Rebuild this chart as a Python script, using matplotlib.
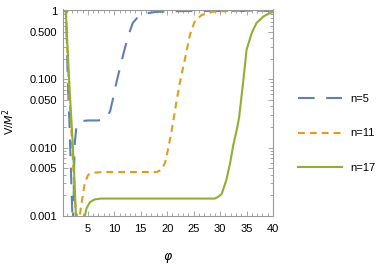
import numpy as np
import matplotlib
matplotlib.use("Agg")
import matplotlib.pyplot as plt

plt.rcParams['font.family'] = ['Liberation Sans', 'DejaVu Sans']
plt.rcParams['font.size'] = 8

# values
phi_n5 = [0.7, 0.83, 1.0, 1.2, 1.5, 1.8, 2.0, 2.15, 2.3, 2.4, 2.55, 2.8, 3.2, 3.8, 5.0, 7.0,
          8.0, 8.6, 9.2, 9.7, 10.4, 11.1, 11.8, 12.4, 13.0, 13.5, 14.5, 16.2, 18.0, 21.0, 25.0, 40.0]
V_n5 = [1.6, 1.0, 0.45, 0.098, 0.025, 0.0047, 0.0015, 0.0007, 0.0015, 0.005, 0.012, 0.019, 0.023,
        0.0245, 0.025, 0.025, 0.026, 0.028, 0.034, 0.05, 0.09, 0.15, 0.25, 0.37, 0.52, 0.67, 0.82,
        0.93, 0.97, 0.99, 1.0, 1.0]

phi_n11 = [0.7, 0.85, 1.1, 1.5, 2.0, 2.4, 2.8, 3.1, 3.4, 3.6, 4.0, 4.4, 5.05, 5.9, 8.0, 15.0,
           18.0, 18.8, 19.3, 19.6, 20.1, 20.8, 21.4, 21.8, 22.5, 23.3, 24.3, 25.2, 26.5, 28.4,
           30.0, 33.0, 40.0]
V_n11 = [1.6, 1.0, 0.3, 0.06, 0.012, 0.003, 0.0008, 0.0006, 0.0009, 0.0012, 0.0019, 0.003, 0.004,
         0.0043, 0.0044, 0.0044, 0.0044, 0.0047, 0.0054, 0.006, 0.009, 0.017, 0.032, 0.05, 0.098,
         0.19, 0.45, 0.70, 0.87, 0.97, 0.99, 1.0, 1.0]

phi_n17 = [0.7, 0.83, 1.2, 1.6, 2.1, 2.5, 2.75, 3.0, 3.6, 4.2, 4.43, 4.75, 5.4, 6.3, 7.5, 29.0,
           29.6, 30.3, 31.2, 31.9, 32.5, 33.2, 33.6, 34.4, 35.0, 36.0, 36.9, 38.2, 39.4, 40.0]
V_n17 = [1.6, 1.0, 0.25, 0.06, 0.013, 0.003, 0.001, 0.0005, 0.0004, 0.0008, 0.001, 0.0013, 0.0016,
         0.00175, 0.0018, 0.0018, 0.0019, 0.0021, 0.0034, 0.006, 0.011, 0.019, 0.028, 0.098, 0.27,
         0.48, 0.67, 0.83, 0.93, 0.96]

yticks = [0.001, 0.005, 0.010, 0.050, 0.100, 0.500, 1]
ytick_labels = ["0.001", "0.005", "0.010", "0.050", "0.100", "0.500", "1"]
xticks = [5, 10, 15, 20, 25, 30, 35, 40]

fig = plt.figure(figsize=(3.87, 2.67), dpi=100)
ax = fig.add_axes([63 / 387, 51 / 267, 210 / 387, 206.5 / 267])

ax.plot(phi_n5, V_n5, color="#5E81B5", lw=1.5, dashes=(8, 5.5), label="n=5")
ax.plot(phi_n11, V_n11, color="#E19C24", lw=1.5, dashes=(3.3, 2.4), label="n=11")
ax.plot(phi_n17, V_n17, color="#8FB032", lw=1.5, label="n=17")

ax.set_yscale("log")
ax.set_xlim(0.3, 40)
ax.set_ylim(0.001, 1.05)
ax.set_yticks(yticks)
ax.set_yticklabels(ytick_labels)
ax.set_xticks(xticks)
ax.set_xticks(np.arange(1, 41, 1), minor=True)

for s in ax.spines.values():
    s.set_color("#999999")
    s.set_linewidth(0.8)
ax.tick_params(which="both", direction="in", top=True, right=True, color="#999999", width=0.6)
ax.tick_params(which="major", length=3.5, pad=4)
ax.tick_params(which="minor", length=2)
ax.tick_params(axis="x", pad=6)

ax.set_xlabel(r"$\varphi$", fontsize=9, labelpad=12)
ax.set_ylabel(r"V/$M^2$", fontsize=8)
ax.yaxis.set_label_coords(-0.22, 0.46)

ax.legend(loc="center left", bbox_to_anchor=(0.755, 0.5), bbox_transform=fig.transFigure,
          frameon=False, handlelength=4, handletextpad=0.7, labelspacing=2.2, borderpad=0)

fig.savefig("out.png", dpi=100)
